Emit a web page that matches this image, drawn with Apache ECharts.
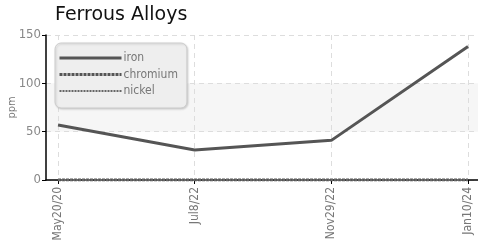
<!DOCTYPE html>
<html>
<head>
<meta charset="utf-8">
<script src="https://cdn.jsdelivr.net/npm/echarts@6/dist/echarts.min.js"></script>
<style>
  html, body { margin: 0; padding: 0; background: #fff; }
  #main { width: 478px; height: 247px; }
</style>
</head>
<body>
<div id="main"></div>
<script>
// data
var dates = ["May20/20", "Jul8/22", "Nov29/22", "Jan10/24"];
var iron = [57, 31, 41, 138];
var chromium = [0, 0, 0, 0];
var nickel = [0, 0, 0, 0];
var yTicks = [0, 50, 100, 150];

var narrow = "'Liberation Sans Narrow', 'DejaVu Sans Condensed', sans-serif";

function pairs(arr) {
    return arr.map(function (v, i) { return [i, v]; });
}
var idx = dates.map(function (d, i) { return i; });

var option = {
    animation: false,
    title: {
        text: 'Ferrous Alloys',
        left: 50,
        top: 1,
        textStyle: { fontFamily: 'DejaVu Sans', fontSize: 19, fontWeight: 'normal', color: '#111' }
    },
    legend: {
        orient: 'vertical',
        left: 55,
        top: 43,
        padding: [9, 9, 11, 3],
        itemGap: 4.5,
        itemWidth: 62,
        itemHeight: 13,
        backgroundColor: '#eeeeee',
        borderColor: '#cccccc',
        borderWidth: 1,
        borderRadius: 6,
        shadowColor: 'rgba(0,0,0,0.15)',
        shadowBlur: 2,
        shadowOffsetX: 1,
        shadowOffsetY: 1,
        itemStyle: { opacity: 0 },
        textStyle: { fontFamily: narrow, fontSize: 12, color: '#777', padding: [0, 0, 0, -3] },
        data: [
            { name: 'iron', lineStyle: { width: 3 } },
            { name: 'chromium', lineStyle: { width: 3 } },
            { name: 'nickel', lineStyle: { width: 2 } }
        ]
    },
    grid: { left: 46, top: 35, right: 0, bottom: 67, outerBoundsMode: 'none', containLabel: false },
    xAxis: {
        type: 'value',
        min: -0.088,
        max: 3.073,
        axisLine: { lineStyle: { color: '#000', width: 1.5 } },
        axisTick: { customValues: idx, length: 4, lineStyle: { color: '#000' } },
        axisLabel: {
            customValues: idx,
            rotate: 90,
            fontFamily: narrow,
            fontSize: 12,
            color: '#777',
            margin: 7,
            formatter: function (v) { return dates[Math.round(v)]; }
        },
        splitLine: { show: true, lineStyle: { color: '#dddddd', type: [5, 4] } }
    },
    yAxis: {
        type: 'value',
        min: yTicks[0],
        max: yTicks[yTicks.length - 1],
        interval: 50,
        name: 'ppm',
        nameLocation: 'middle',
        nameGap: 28,
        nameMoveOverlap: false,
        nameTextStyle: { fontFamily: narrow, fontSize: 11, color: '#777' },
        axisLine: { show: true, onZero: false, lineStyle: { color: '#000', width: 1.5 } },
        axisTick: { show: true, length: 4, lineStyle: { color: '#000' } },
        axisLabel: { fontFamily: narrow, fontSize: 13, color: '#888', margin: 5 },
        splitLine: { show: true, lineStyle: { color: '#dddddd', type: [5, 4] } },
        splitArea: { show: true, areaStyle: { color: ['rgba(255,255,255,0)', '#f6f6f6'] } }
    },
    series: [
        {
            name: 'iron', type: 'line', data: pairs(iron),
            symbol: 'none', color: '#555',
            lineStyle: { color: '#555', width: 3 }
        },
        {
            name: 'chromium', type: 'line', data: pairs(chromium),
            symbol: 'none', color: '#555',
            lineStyle: { color: '#555', width: 3, type: [3, 1] }
        },
        {
            name: 'nickel', type: 'line', data: pairs(nickel),
            symbol: 'none', color: '#666',
            lineStyle: { color: '#666', width: 2, type: [2, 1] }
        }
    ]
};

var myChart = echarts.init(document.getElementById('main'));
myChart.setOption(option);
</script>
</body>
</html>
